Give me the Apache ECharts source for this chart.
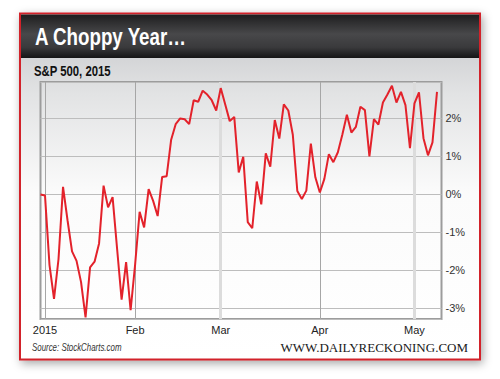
<!DOCTYPE html>
<html>
<head>
<meta charset="utf-8">
<style>
  html, body { margin: 0; padding: 0; background: #ffffff; }
  #chart { width: 500px; height: 379px; }
</style>
<script src="https://cdn.jsdelivr.net/npm/echarts@6/dist/echarts.min.js"></script>
</head>
<body>
<div id="chart"></div>
<script>
// Trading days (MM-DD), starting with the 2014-12-31 base close
const dates = [
  '12-31',
  '01-02','01-05','01-06','01-07','01-08','01-09','01-12','01-13','01-14','01-15','01-16',
  '01-20','01-21','01-22','01-23','01-26','01-27','01-28','01-29','01-30',
  '02-02','02-03','02-04','02-05','02-06','02-09','02-10','02-11','02-12','02-13',
  '02-17','02-18','02-19','02-20','02-23','02-24','02-25','02-26','02-27',
  '03-02','03-03','03-04','03-05','03-06','03-09','03-10','03-11','03-12','03-13',
  '03-16','03-17','03-18','03-19','03-20','03-23','03-24','03-25','03-26','03-27','03-30','03-31',
  '04-01','04-02','04-06','04-07','04-08','04-09','04-10','04-13','04-14','04-15','04-16','04-17',
  '04-20','04-21','04-22','04-23','04-24','04-27','04-28','04-29','04-30',
  '05-01','05-04','05-05','05-06','05-07','05-08',
  '05-11'
];

// S&P 500 year-to-date change, %
const ytdChange = [
  0,
  -0.03, -1.86, -2.75, -1.70, 0.20, -0.68, -1.50, -1.75, -2.31, -3.24, -1.92,
  -1.77, -1.29, 0.23, -0.34, -0.07, -1.43, -2.77, -1.78, -3.05,
  -1.85, -0.46, -0.87, 0.14, -0.17, -0.57, 0.46, 0.48, 1.44, 1.85,
  2.00, 1.98, 1.85, 2.48, 2.44, 2.73, 2.63, 2.48, 2.21,
  2.80, 2.37, 1.93, 2.04, 0.58, 0.99, -0.73, -0.89, 0.34, -0.26,
  1.08, 0.73, 1.96, 1.47, 2.37, 2.21, 1.57, 0.09, -0.12, 0.10, 1.34, 0.45,
  0.05, 0.41, 1.06, 0.85, 1.11, 1.58, 2.10, 1.63, 1.78, 2.31, 2.22, 1.00,
  1.98, 1.84, 2.42, 2.63, 2.86, 2.42, 2.70, 2.35, 1.22,
  2.40, 2.69, 1.48, 1.03, 1.37, 2.70
];

// X tick positions and their labels
const xTickDates = ['01-02', '02-02', '03-02', '04-01', '05-01'];
const xTickLabels = ['2015', 'Feb', 'Mar', 'Apr', 'May'];

// Y axis range (percent)
const yMin = -3.28;
const yMax = 2.96;

const SANS = '"Liberation Sans", Arial, Helvetica, sans-serif';

const chart = echarts.init(document.getElementById('chart'), null, { renderer: 'svg' });

const vLineStyles = [
  { color: '#a6a6a6', width: 1 },
  { color: '#a6a6a6', width: 1 },
  { color: '#dcdcdc', width: 3 },
  { color: '#a6a6a6', width: 1 },
  { color: '#dcdcdc', width: 3 }
];

function narrowText(x, y, text, font, fill, scale) {
  return {
    type: 'text', z: 10, silent: true,
    x: x, y: y, scaleX: scale, scaleY: 1,
    style: { x: 0, y: 0, text: text, font: font, fill: fill, textVerticalAlign: 'middle' }
  };
}

const option = {
  animation: false,
  graphic: [
    // card with shadow and red border
    {
      type: 'rect', z: -10, silent: true,
      shape: { x: 20, y: 13.5, width: 460, height: 346 },
      style: {
        fill: '#ffffff', stroke: '#d2232b', lineWidth: 2,
        shadowBlur: 10, shadowColor: 'rgba(0,0,0,0.35)', shadowOffsetX: 2, shadowOffsetY: 3
      }
    },
    // body gradient
    {
      type: 'rect', z: -9, silent: true,
      shape: { x: 21, y: 58, width: 458, height: 300 },
      style: {
        fill: new echarts.graphic.LinearGradient(0, 0, 0, 1, [
          { offset: 0, color: '#d4d5d7' },
          { offset: 0.12, color: '#e2e3e4' },
          { offset: 0.45, color: '#fbfbfb' },
          { offset: 1, color: '#ffffff' }
        ])
      }
    },
    // title bar
    {
      type: 'rect', z: -8, silent: true,
      shape: { x: 21, y: 14.5, width: 458, height: 43.5 },
      style: {
        fill: new echarts.graphic.LinearGradient(0, 0, 0, 1, [
          { offset: 0, color: '#1e1e1f' },
          { offset: 0.45, color: '#48484a' },
          { offset: 0.75, color: '#3a3a3c' },
          { offset: 1, color: '#151516' }
        ])
      }
    },
    narrowText(35, 37, 'A Choppy Year\u2026', 'bold 23px ' + SANS, '#ffffff', 0.815),
    narrowText(34, 71.5, 'S&P 500, 2015', 'bold 14px ' + SANS, '#111111', 0.81),
    narrowText(32, 348, 'Source: StockCharts.com', 'italic 10px ' + SANS, '#333333', 0.79),
    {
      type: 'text', z: 10, silent: true,
      style: {
        x: 468, y: 347, text: 'WWW.DAILYRECKONING.COM',
        font: '13px "Liberation Serif", "Times New Roman", serif', fill: '#1a1a1a',
        textAlign: 'right', textVerticalAlign: 'middle'
      }
    }
  ],
  grid: {
    left: 40.5, right: 58.5, top: 82, bottom: 60,
    show: true, borderColor: '#9c9c9c', borderWidth: 2, backgroundColor: 'transparent'
  },
  xAxis: {
    type: 'category',
    data: dates,
    boundaryGap: false,
    axisLine: { show: false },
    axisTick: { show: false },
    splitLine: { show: false },
    axisLabel: {
      interval: function (idx, val) { return xTickDates.indexOf(val) >= 0; },
      formatter: function (val) {
        const i = xTickDates.indexOf(val);
        return i >= 0 ? xTickLabels[i] : '';
      },
      color: '#222222', fontSize: 11, fontFamily: SANS, margin: 5
    }
  },
  yAxis: {
    type: 'value',
    position: 'right',
    min: yMin, max: yMax,
    axisLine: { show: false },
    axisTick: { show: false },
    splitLine: { show: true, lineStyle: { color: '#bdbdbd', width: 1 } },
    axisLabel: {
      showMinLabel: false, showMaxLabel: false,
      formatter: function (v) { return v + '%'; },
      color: '#333333', fontSize: 11, fontFamily: SANS, margin: 4
    }
  },
  series: [
    {
      type: 'line', z: 1, data: [], silent: true,
      markLine: {
        silent: true, symbol: 'none', animation: false,
        label: { show: false },
        data: xTickDates.map(function (d, i) {
          return { xAxis: d, lineStyle: { color: vLineStyles[i].color, width: vLineStyles[i].width, type: 'solid' } };
        })
      }
    },
    {
      type: 'line', z: 5,
      data: ytdChange,
      symbol: 'none',
      lineStyle: { color: '#e3222b', width: 2 },
      silent: true
    }
  ]
};

chart.setOption(option);
</script>
</body>
</html>
